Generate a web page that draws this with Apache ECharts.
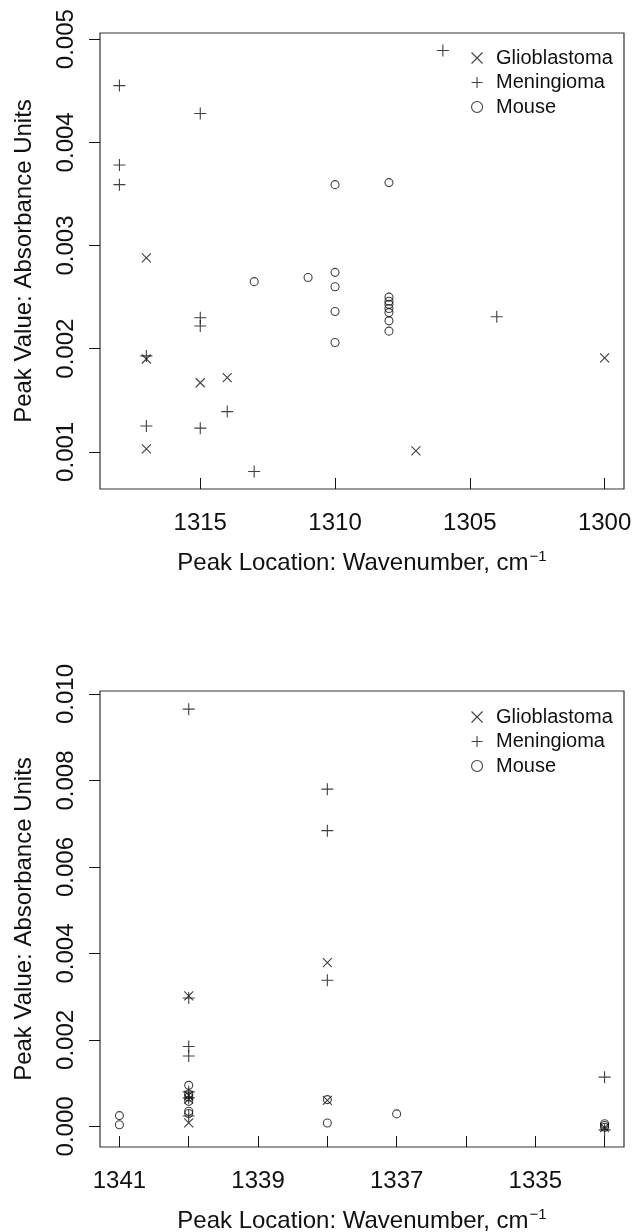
<!DOCTYPE html>
<html>
<head>
<meta charset="utf-8">
<script src="https://cdn.jsdelivr.net/npm/echarts@6/dist/echarts.min.js"></script>
<style>
html,body{margin:0;padding:0;background:#fff;}
#c{width:634px;height:1232px;}
</style>
</head>
<body>
<div id="c"></div>
<script>
// ---- Top panel data (wavenumber 1300-1318) ----
const topGlioX = [1317, 1317, 1317, 1315, 1314, 1307, 1300];
const topGlioY = [0.00288, 0.00190, 0.00103, 0.00167, 0.00172, 0.00101, 0.00191];
const topMeninX = [1318, 1318, 1318, 1315, 1317, 1317, 1315, 1315, 1315, 1314, 1313, 1306, 1304];
const topMeninY = [0.00455, 0.00378, 0.00359, 0.00428, 0.00193, 0.00125, 0.00230, 0.00222, 0.00123, 0.00139, 0.00081, 0.00489, 0.00231];
const topMouseX = [1313, 1311, 1310, 1310, 1310, 1310, 1310, 1308, 1308, 1308, 1308, 1308, 1308, 1308, 1308];
const topMouseY = [0.00265, 0.00269, 0.00359, 0.00274, 0.00260, 0.00236, 0.00206, 0.00361, 0.00250, 0.00246, 0.00243, 0.00239, 0.00235, 0.00227, 0.00217];

// ---- Bottom panel data (wavenumber 1334-1341) ----
const botGlioX = [1340, 1340, 1340, 1340, 1338, 1338, 1334];
const botGlioY = [0.00302, 0.00072, 0.00063, 0.00008, 0.00379, 0.00060, -0.00003];
const botMeninX = [1340, 1340, 1340, 1340, 1340, 1340, 1340, 1338, 1338, 1338, 1334, 1334];
const botMeninY = [0.00965, 0.00297, 0.00185, 0.00163, 0.00080, 0.00066, 0.00024, 0.00780, 0.00684, 0.00338, 0.00114, -0.00008];
const botMouseX = [1341, 1341, 1340, 1340, 1340, 1340, 1340, 1340, 1338, 1338, 1337, 1334, 1334, 1334];
const botMouseY = [0.00025, 0.00004, 0.00095, 0.00075, 0.00068, 0.00058, 0.00035, 0.00030, 0.00062, 0.00008, 0.00029, 0.00006, 0.00002, -0.00002];

// ---- Tick values ----
const topXTicks = [1315, 1310, 1305, 1300];
const topYTicks = [0.001, 0.002, 0.003, 0.004, 0.005];
const botXTicks = [1341, 1340, 1339, 1338, 1337, 1336, 1335, 1334];
const botXLabels = [1341, 1339, 1337, 1335];
const botYTicks = [0.000, 0.002, 0.004, 0.006, 0.008, 0.010];

const names = ['Glioblastoma', 'Meningioma', 'Mouse'];

const zip = (xs, ys) => xs.map((x, i) => [x, ys[i]]);
const FONT = 'Liberation Sans';
const INK = '#111';
const SYM = {
  Glioblastoma: { symbol: 'path://M0,0L10,10M10,0L0,10', size: 9 },
  Meningioma: { symbol: 'path://M5,0L5,10M0,5L10,5', size: 12 },
  Mouse: { symbol: 'circle', size: 8 }
};
const markStyle = { color: 'rgba(0,0,0,0)', borderColor: INK, borderWidth: 1.1 };

function mkSeries(name, idx, data) {
  return {
    type: 'scatter', name: name, xAxisIndex: idx, yAxisIndex: idx,
    data: data, symbol: SYM[name].symbol, symbolSize: SYM[name].size,
    itemStyle: markStyle, emphasis: { disabled: true }
  };
}

const xTitle = {
  rich: {
    t: { fontSize: 24, fontFamily: FONT, color: INK },
    s: { fontSize: 15, fontFamily: FONT, color: INK, padding: [0, 0, 14, 1] }
  }
};

function xAxis(idx, min, max, ticks, labels) {
  return {
    type: 'value', gridIndex: idx, inverse: true, min: min, max: max,
    name: '{t|Peak Location: Wavenumber, cm}{s|\u22121}',
    nameLocation: 'middle', nameGap: 60, nameTextStyle: xTitle,
    axisLine: { show: false, onZero: false },
    // inverse axis flips tick direction, so "inside" here draws them outward
    axisTick: { show: true, inside: true, length: 11, customValues: ticks, lineStyle: { color: INK, width: 1 } },
    axisLabel: { customValues: labels, margin: 22, fontSize: 24, fontFamily: FONT, color: INK, formatter: v => String(Math.round(v)) },
    splitLine: { show: false }
  };
}
function yAxis(idx, min, max, ticks) {
  return {
    type: 'value', gridIndex: idx, min: min, max: max,
    name: 'Peak Value: Absorbance Units', nameLocation: 'middle', nameGap: 64,
    nameTextStyle: { fontSize: 24, fontFamily: FONT, color: INK },
    axisLine: { show: false, onZero: false },
    axisTick: { show: true, inside: false, length: 11, customValues: ticks, lineStyle: { color: INK, width: 1 } },
    axisLabel: { customValues: ticks, rotate: 90, margin: 22, fontSize: 24, fontFamily: FONT, color: INK, formatter: v => v.toFixed(3) },
    splitLine: { show: false }
  };
}
function legend(top) {
  return {
    orient: 'vertical', left: 466, top: top, itemWidth: 28, itemHeight: 11, itemGap: 4.5,
    selectedMode: false, symbolKeepAspect: true,
    textStyle: { fontSize: 20, lineHeight: 20, fontFamily: FONT, color: INK },
    data: names.map(n => ({ name: n, icon: SYM[n].symbol, itemStyle: markStyle }))
  };
}

const gridBase = { left: 100, width: 524, height: 456, show: true, borderColor: '#333', borderWidth: 1.2,
  backgroundColor: 'transparent', containLabel: false, outerBoundsMode: 'none' };

const chart = echarts.init(document.getElementById('c'), null, { renderer: 'canvas' });
chart.setOption({
  animation: false,
  backgroundColor: '#fff',
  grid: [
    Object.assign({ top: 33 }, gridBase),
    Object.assign({ top: 691 }, gridBase)
  ],
  legend: [legend(43), legend(702)],
  xAxis: [
    xAxis(0, 1299.28, 1318.72, topXTicks, topXTicks),
    xAxis(1, 1333.72, 1341.28, botXTicks, botXLabels)
  ],
  yAxis: [
    yAxis(0, 0.00064, 0.00506, topYTicks),
    yAxis(1, -0.000476, 0.01007, botYTicks)
  ],
  series: [
    mkSeries('Glioblastoma', 0, zip(topGlioX, topGlioY)),
    mkSeries('Meningioma', 0, zip(topMeninX, topMeninY)),
    mkSeries('Mouse', 0, zip(topMouseX, topMouseY)),
    mkSeries('Glioblastoma', 1, zip(botGlioX, botGlioY)),
    mkSeries('Meningioma', 1, zip(botMeninX, botMeninY)),
    mkSeries('Mouse', 1, zip(botMouseX, botMouseY))
  ]
});
</script>
</body>
</html>
